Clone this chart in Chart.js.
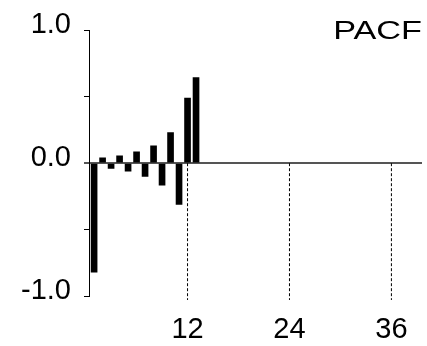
<!DOCTYPE html>
<html>
<head>
<meta charset="utf-8">
<script src="https://cdn.jsdelivr.net/npm/chart.js@4"></script>
<style>
  html, body { margin: 0; padding: 0; background: #fff; }
  #wrap { width: 427px; height: 346px; }
</style>
</head>
<body>
<div id="wrap"><canvas id="myChart"></canvas></div>
<script>
'use strict';

// lags and partial autocorrelations
const lags = [1, 2, 3, 4, 5, 6, 7, 8, 9, 10, 11, 12, 13];
const pacf = [-0.82, 0.04, -0.04, 0.055, -0.06, 0.085, -0.10, 0.13, -0.165, 0.23, -0.31, 0.49, 0.645];
const seasonLags = [12, 24, 36];
const dashBottom = -1.03;
const yTicks = [-1, -0.5, 0, 0.5, 1];
const yLabels = ['-1.0', '', '0.0', '', '1.0'];
const xLabels = ['12', '24', '36'];
const title = 'PACF';

const font = 'Liberation Sans, Arial, sans-serif';

const dashSets = seasonLags.map(lag => ({
    type: 'line',
    data: [{ x: lag, y: 0 }, { x: lag, y: dashBottom }],
    borderColor: '#000',
    borderWidth: 1,
    borderDash: [3, 2],
    pointRadius: 0,
    clip: false
}));

const titlePlugin = {
    id: 'pacfTitle',
    afterDraw(chart) {
        const ctx = chart.ctx;
        ctx.save();
        ctx.font = '25px ' + font;
        ctx.fillStyle = '#000';
        ctx.textBaseline = 'alphabetic';
        ctx.textAlign = 'right';
        ctx.translate(422, 39);
        ctx.scale(1.37, 1);
        ctx.fillText(title, 0, 0);
        ctx.restore();
    }
};

const ctx = document.getElementById('myChart');
new Chart(ctx, {
    type: 'bar',
    data: {
        datasets: [{
            data: lags.map((l, i) => ({ x: l, y: pacf[i] })),
            backgroundColor: '#000',
            borderWidth: 0,
            barThickness: 6
        }, ...dashSets]
    },
    options: {
        responsive: true,
        maintainAspectRatio: false,
        animation: false,
        events: [],
        layout: { padding: { top: 30, right: 5, bottom: 0, left: 0 } },
        plugins: { legend: { display: false }, tooltip: { enabled: false } },
        scales: {
            x: {
                type: 'linear',
                offset: false,
                min: 0.4,
                max: 39.6,
                afterBuildTicks: s => { s.ticks = seasonLags.map(v => ({ value: v })); },
                afterFit: s => { s.height = 50; },
                grid: { display: false, offset: false },
                border: { display: false },
                ticks: {
                    color: '#000',
                    font: { family: font, size: 29 },
                    padding: 9,
                    maxRotation: 0,
                    autoSkip: false,
                    callback: (v, i) => xLabels[i]
                }
            },
            y: {
                min: -1,
                max: 1,
                afterBuildTicks: s => { s.ticks = yTicks.map(v => ({ value: v })); },
                afterFit: s => { s.width = 89; },
                border: { display: true, color: '#000', width: 1 },
                grid: {
                    drawOnChartArea: true,
                    drawTicks: true,
                    tickLength: 5,
                    color: c => (c.tick && c.tick.value === 0) ? '#555' : 'rgba(0,0,0,0)',
                    tickColor: c => (c.tick && c.tick.value === 0) ? '#555' : '#000',
                    lineWidth: c => (c.tick && c.tick.value === 0) ? 2 : 1
                },
                ticks: {
                    color: '#000',
                    font: { family: font, size: 29 },
                    padding: 13,
                    labelOffset: -5,
                    autoSkip: false,
                    callback: (v, i) => yLabels[i]
                }
            }
        }
    },
    plugins: [titlePlugin]
});
</script>
</body>
</html>
